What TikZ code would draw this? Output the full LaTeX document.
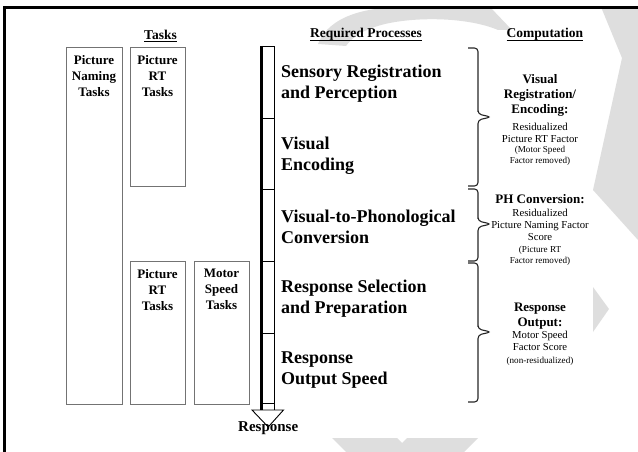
\documentclass[tikz,border=0pt]{standalone}
\usepackage{fontspec}
\setmainfont{Liberation Serif}
\usepackage{tikz}
\usetikzlibrary{positioning, calc}

\newcommand{\hdrul}[1]{\leavevmode\setbox0\hbox{#1}\rlap{\rule[-2.4pt]{\wd0}{0.8pt}}\box0}

\begin{document}
\begin{tikzpicture}[
    x=1pt, y=-1pt,
    wm/.style={fill=black!13, draw=none},
    hdr/.style={font=\fontsize{13.5}{15}\selectfont\bfseries, anchor=base, inner sep=0pt},
    taskbox/.style={draw=black!55, line width=1pt, anchor=north west, inner sep=0pt, outer sep=0pt},
    tasklbl/.style={font=\fontsize{13}{16}\selectfont\bfseries, align=center, inner sep=0pt},
    seg/.style={draw, line width=0.9pt, minimum width=13pt, inner sep=0pt, outer sep=0pt},
    proc/.style={font=\fontsize{18}{21}\selectfont\bfseries, align=left, anchor=west, inner sep=0pt},
    ctitle/.style={font=\fontsize{13}{15}\selectfont\bfseries, align=center, anchor=north, inner sep=0pt},
    cbody/.style={font=\fontsize{10.7}{12.3}\selectfont, align=center, anchor=north, inner sep=0pt},
    cnote/.style={font=\fontsize{9.1}{10.8}\selectfont, align=center, anchor=north, inner sep=0pt},
    brc/.style={line width=1.1pt, draw=black!85, rounded corners=3.5pt}
  ]
  \useasboundingbox (0,0) rectangle (638,452);

  % faint watermark
  \fill[wm] (318,44) .. controls (330,14) and (370,7) .. (405,7) -- (490,7) -- (512,30)
    -- (498,30) .. controls (470,18) and (420,16) .. (385,24) .. controls (365,29) and (353,36) .. (346,46) -- cycle;
  \fill[wm] (601,7) -- (638,7) -- (638,240) -- (593,190) -- (622,58) -- cycle;
  \fill[wm] (593,287) -- (609,309) -- (593,332) -- cycle;
  \fill[wm] (332,438) -- (397,438) -- (402,443) -- (407,438) -- (478,438) -- (464,452) -- (346,452) -- cycle;

  % frame
  \draw[line width=2.7pt] (4.7,452) -- (4.7,7.3) -- (638,7.3);

  % headers
  \node[hdr] (tasks) at (160.5,39.5) {\hdrul{Tasks}};
  \node[hdr] (req)   at (366,38)     {\hdrul{Required Processes}};
  \node[hdr] (comp)  at (545,38)     {\hdrul{Computation}};

  % task boxes
  \node[taskbox, minimum width=56pt, minimum height=356.5pt] (naming) at (66,47.7) {};
  \node[taskbox, minimum width=55pt, minimum height=138.5pt] (rttop)  at (130,47.7) {};
  \node[taskbox, minimum width=55pt, minimum height=142.3pt] (rtbot)  at (130,261.7) {};
  \node[taskbox, minimum width=55pt, minimum height=142.3pt] (motor)  at (194,261.7) {};
  \node[tasklbl, below=7.4pt of naming.north] {Picture\\Naming\\Tasks};
  \node[tasklbl, below=7.4pt of rttop.north]  {Picture\\RT\\Tasks};
  \node[tasklbl, below=7.4pt of rtbot.north]  {Picture\\RT\\Tasks};
  \node[tasklbl, below=7.4pt of motor.north]  {Motor\\Speed\\Tasks};

  % process column
  \node[seg, minimum height=72pt, anchor=north] (s1) at (268.2,46) {};
  \node[seg, minimum height=71pt, below=0pt of s1] (s2) {};
  \node[seg, minimum height=72pt, below=0pt of s2] (s3) {};
  \node[seg, minimum height=72pt, below=0pt of s3] (s4) {};
  \node[seg, minimum height=70pt, below=0pt of s4] (s5) {};
  \coordinate (tip) at ($(s5.south)+(0,24)$);
  \draw[line width=0.9pt, fill=white] ($(s5.south west)+(-9.7,7)$) -- ($(s5.south east)+(8.8,7)$) -- (tip) -- cycle;
  \draw[line width=3.3pt] (s1.north west) -- ($(s5.south west)+(0,7)$);
  \draw[line width=0.9pt] (s5.south east) -- ++(0,7);
  \node[font=\fontsize{15}{17}\selectfont\bfseries, anchor=base, inner sep=0pt] (resp) at ($(tip)+(0,4)$) {Response};

  \node[proc] (p1) at ($(s1.east)+(6.3,2)$) {Sensory Registration\\and Perception};
  \node[proc] (p2) at ($(s2.east)+(6.3,2)$) {Visual\\Encoding};
  \node[proc] (p3) at ($(s3.east)+(6.3,2)$) {Visual-to-Phonological\\Conversion};
  \node[proc] (p4) at ($(s4.east)+(6.3,2)$) {Response Selection\\and Preparation};
  \node[proc] (p5) at ($(s5.east)+(6.3,2)$) {Response\\Output Speed};

  % braces
  \coordinate (b1t) at (468,48);  \coordinate (b1m) at (491,117); \coordinate (b1b) at (468,186);
  \coordinate (b2t) at (468,189); \coordinate (b2m) at (491,224); \coordinate (b2b) at (468,261);
  \coordinate (b3t) at (468,263); \coordinate (b3m) at (491,332); \coordinate (b3b) at (468,402);
  \draw[brc] (b1t) -- ++(10,0) |- ($(b1m)+(-13,-3)$) -- (b1m) -- ($(b1m)+(-13,3)$) |- (b1b);
  \draw[brc] (b2t) -- ++(10,0) |- ($(b2m)+(-13,-3)$) -- (b2m) -- ($(b2m)+(-13,3)$) |- (b2b);
  \draw[brc] (b3t) -- ++(10,0) |- ($(b3m)+(-13,-3)$) -- (b3m) -- ($(b3m)+(-13,3)$) |- (b3b);

  % computation
  \node[ctitle] (c1)  at (540,74.2)  {Visual\\Registration/\\Encoding:};
  \node[cbody]  (c1b) at (540,122.7) {Residualized\\Picture RT Factor};
  \node[cnote]  (c1n) at (540,145.8) {(Motor Speed\\Factor removed)};
  \node[ctitle] (c2)  at (540,194.4) {PH Conversion:};
  \node[cbody]  (c2b) at (540,208.7) {Residualized\\Picture Naming Factor\\Score};
  \node[cnote]  (c2n) at (540,245.8) {(Picture RT\\Factor removed)};
  \node[ctitle] (c3)  at (540,302.4) {Response\\Output:};
  \node[cbody]  (c3b) at (540,330.9) {Motor Speed\\Factor Score};
  \node[cnote]  (c3n) at (540,356.8) {(non-residualized)};
\end{tikzpicture}
\end{document}
